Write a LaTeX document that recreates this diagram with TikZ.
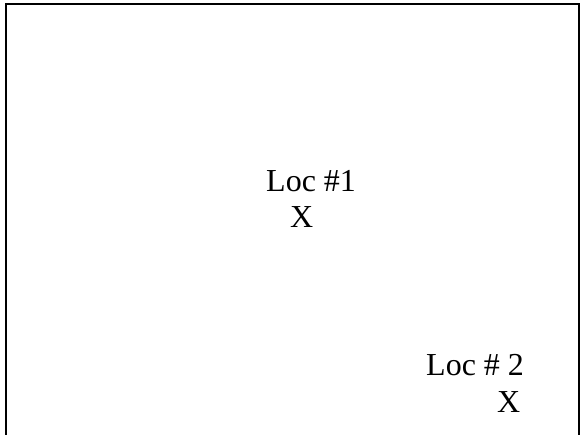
\documentclass[tikz,border=0pt]{standalone}
\usepackage{fontspec}
\setmainfont{Liberation Serif}
\begin{document}
\begin{tikzpicture}[x=1pt,y=-1pt,
  lbl/.style={inner sep=0pt,anchor=base west,font=\fontsize{32}{36}\selectfont},
  frame/.style={line width=2.2pt}]
\useasboundingbox (0,0) rectangle (583,435);
\draw[frame] (6,436) -- (6,4) -- (579,4) -- (579,436);
\node[lbl] (loc1) at (266,192) {Loc \#1};
\node[lbl] (x1) at (290,227.5) {X};
\node[lbl] (loc2) at (426,375) {Loc \# 2};
\node[lbl] (x2) at (497,412) {X};
\end{tikzpicture}
\end{document}
